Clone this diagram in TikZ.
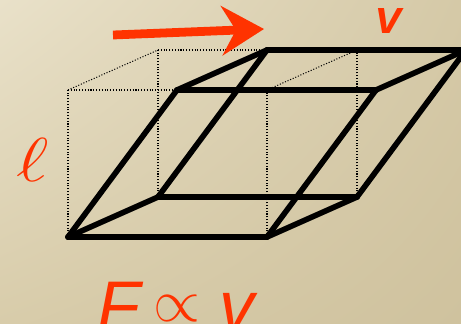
\documentclass[tikz,border=0pt]{standalone}
\usepackage{amsmath}
\usepackage{amssymb}
\usepackage{xcolor}
\usepackage{fontspec}
\setmainfont{Liberation Sans}
\usetikzlibrary{
    arrows.meta,
    shadings
}
\definecolor{paperlight}{RGB}{233,225,201}
\definecolor{paperright}{RGB}{213,201,167}
\definecolor{paperleft}{RGB}{216,204,170}
\definecolor{paperdark}{RGB}{207,194,158}
\definecolor{flashred}{RGB}{255,51,0}
\tikzset{
  edgeline/.style  = {line width=3.2pt, line join=round, line cap=round, black},
  guideline/.style = {densely dotted, line width=0.6pt, black},
  flowarr/.style   = {-{Stealth[length=24pt, width=28pt, inset=8pt]}, line width=5pt, flashred},
  symb/.style      = {text=flashred, inner sep=0pt}
}

\begin{document}
\begin{tikzpicture}[x=0.02cm, y=-0.02cm]

\useasboundingbox (0,0) rectangle (461,324);
\clip (0,0) rectangle (461,324);
\shade[upper left=paperlight, upper right=paperright, lower left=paperleft, lower right=paperdark]
  (0,0) rectangle (461,324);

% undeformed cube
\coordinate (q1) at (68,90);
\coordinate (q2) at (267,90);
\coordinate (q3) at (158,50);
\coordinate (q4) at (357,50);

% sheared block
\coordinate (a1) at (68,237);
\coordinate (a2) at (267,237);
\coordinate (a3) at (158,197);
\coordinate (a4) at (357,197);
\coordinate (b1) at (177,90);
\coordinate (b2) at (376,90);
\coordinate (b3) at (267,50);
\coordinate (b4) at (466,50);

\draw[guideline] (a1) -- (q1);
\draw[guideline] (a2) -- (q2);
\draw[guideline] (a3) -- (q3);
\draw[guideline] (a4) -- (q4);
\draw[guideline] (q1) -- (b1);
\draw[guideline] (q1) -- (q3);
\draw[guideline] (q2) -- (q4);
\draw[guideline] (q3) -- (b3);

\draw[edgeline] (a1) -- (a2);
\draw[edgeline] (a1) -- (a3);
\draw[edgeline] (a3) -- (a4);
\draw[edgeline] (a2) -- (a4);
\draw[edgeline] (a1) -- (b1);
\draw[edgeline] (a2) -- (b2);
\draw[edgeline] (a3) -- (b3);
\draw[edgeline] (a4) -- (b4);
\draw[edgeline] (b1) -- (b2);
\draw[edgeline] (b1) -- (b3);
\draw[edgeline] (b3) -- (b4);
\draw[edgeline] (b2) -- (b4);

% shear force
\coordinate (f0) at (113,35);
\coordinate (f1) at (264,29);
\draw[flowarr] (f0) -- (f1);

\begin{scope}
\clip (340,9) rectangle (440,45);
\node[symb, font=\fontsize{40}{40}\selectfont\itshape] (vel) at (390,15) {v};
\end{scope}
\node[symb, font=\fontsize{26}{26}\selectfont, xscale=1.8, yscale=1.42] (ell) at (33,160) {$\ell$};
\node[symb, font=\fontsize{40}{40}\selectfont\itshape, anchor=base west] (force) at (97,331) {F};
\node[symb, font=\fontsize{26}{26}\selectfont, scale=1.38] (prop) at (177,309) {$\propto$};
\node[symb, font=\fontsize{40}{40}\selectfont\itshape, anchor=base west] (vel2) at (219,331) {v};

\end{tikzpicture}
\end{document}
